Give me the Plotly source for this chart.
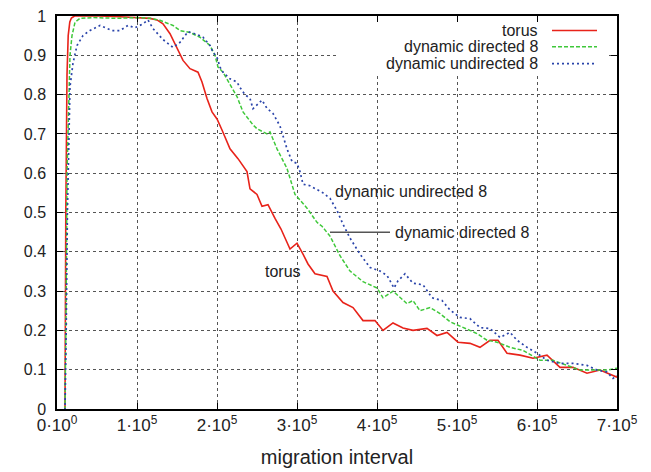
import plotly.graph_objects as go

# ---------------- data ----------------
torus_x = [8750, 10000, 11000, 12500, 14000, 16000, 18000, 22000, 28750, 53750, 78750, 103750,
           116250, 125000, 132500, 141250, 150000, 157500, 166250, 176250, 181250, 187500,
           193750, 200000, 206250, 216250, 226250, 237500, 241250, 250000, 256250, 263750,
           272500, 280000, 291250, 300000, 307500, 313750, 322500, 337500, 345000, 357500,
           370000, 382500, 397500, 407500, 420000, 432500, 445000, 462500, 475000, 487500,
           501250, 516250, 528750, 541250, 551250, 562500, 578750, 595000, 612500, 628750,
           645000, 662500, 678750, 700000]
torus_y = [0.0, 0.0, 0.5, 0.85, 0.95, 0.985, 0.995, 1.0, 1.0, 1.0, 0.998, 0.995,
           0.994, 0.99, 0.98, 0.955, 0.916, 0.887, 0.866, 0.857, 0.832, 0.79,
           0.756, 0.738, 0.71, 0.662, 0.637, 0.604, 0.56, 0.546, 0.516, 0.52,
           0.485, 0.458, 0.407, 0.422, 0.394, 0.369, 0.344, 0.337, 0.30, 0.271,
           0.258, 0.225, 0.225, 0.20, 0.219, 0.206, 0.20, 0.205, 0.187, 0.195,
           0.17, 0.167, 0.157, 0.175, 0.175, 0.142, 0.137, 0.129, 0.137, 0.106,
           0.106, 0.091, 0.099, 0.081]

directed_x = [8750, 10000, 11500, 12500, 16250, 18750, 22500, 28750, 45000, 75000, 100000,
              116250, 128750, 145000, 153750, 166250, 178750, 191250, 197500, 201250,
              207500, 213750, 220000, 225000, 232500, 245000, 250000, 262500, 266250,
              275000, 287500, 297500, 307500, 312500, 325000, 331250, 341250, 353750,
              366250, 382500, 400000, 407500, 420000, 437500, 445000, 453750, 466250,
              478750, 491250, 507500, 525000, 537500, 550000, 566250, 582500, 603750,
              620000, 637500, 653750, 670000, 687500, 700000]
directed_y = [0.0, 0.0, 0.3, 0.6, 0.9, 0.95, 0.984, 0.994, 0.996, 0.994, 0.996,
              0.994, 0.989, 0.976, 0.963, 0.958, 0.946, 0.925, 0.90, 0.87,
              0.857, 0.835, 0.814, 0.795, 0.756, 0.723, 0.713, 0.70, 0.705,
              0.662, 0.612, 0.546, 0.523, 0.511, 0.475, 0.465, 0.44, 0.39,
              0.351, 0.324, 0.308, 0.283, 0.30, 0.268, 0.276, 0.25, 0.258,
              0.243, 0.222, 0.207, 0.192, 0.175, 0.17, 0.157, 0.149, 0.124,
              0.124, 0.111, 0.099, 0.099, 0.099, 0.104]

undirected_x = [8750, 10000, 11500, 13000, 16250, 20000, 25000, 32500, 37500, 41250, 53750,
                60000, 68750, 78750, 88750, 97500, 107500, 113750, 120000, 132500, 145000,
                153750, 163750, 175000, 182500, 191250, 195000, 200000, 203750, 207500,
                216250, 225000, 228750, 235000, 241250, 245000, 251250, 256250, 262500,
                270000, 278750, 287500, 293750, 300000, 303750, 307500, 316250, 332500,
                341250, 350000, 357500, 366250, 378750, 391250, 403750, 412500, 421250,
                426250, 435000, 445000, 457500, 468750, 481250, 491250, 503750, 516250,
                528750, 541250, 553750, 566250, 575000, 587500, 600000, 612500, 628750,
                645000, 662500, 675000, 687500, 695000, 700000]
undirected_y = [0.0, 0.0, 0.2, 0.5, 0.82, 0.88, 0.925, 0.95, 0.958, 0.963, 0.976,
                0.97, 0.963, 0.963, 0.976, 0.97, 0.98, 0.99, 0.968, 0.94, 0.92,
                0.933, 0.96, 0.953, 0.946, 0.925, 0.908, 0.895, 0.87, 0.857,
                0.84, 0.832, 0.818, 0.80, 0.79, 0.764, 0.776, 0.786, 0.765,
                0.752, 0.72, 0.662, 0.63, 0.625, 0.604, 0.572, 0.568, 0.55,
                0.536, 0.505, 0.47, 0.435, 0.394, 0.36, 0.351, 0.34, 0.308,
                0.326, 0.344, 0.32, 0.316, 0.283, 0.276, 0.252, 0.233, 0.23,
                0.207, 0.205, 0.182, 0.195, 0.175, 0.157, 0.142, 0.124, 0.116,
                0.116, 0.111, 0.099, 0.094, 0.078, 0.085]

series_names = ["torus", "dynamic directed 8", "dynamic undirected 8"]
series_colors = ["#e8231a", "#3fc83a", "#2a44aa"]
series_dash = ["solid", "4px,2px", "2px,3px"]
series_width = [1.6, 1.5, 1.7]

x_tick_vals = [0, 100000, 200000, 300000, 400000, 500000, 600000, 700000]
x_tick_text = ["0·10<sup>0</sup>", "1·10<sup>5</sup>", "2·10<sup>5</sup>", "3·10<sup>5</sup>",
               "4·10<sup>5</sup>", "5·10<sup>5</sup>", "6·10<sup>5</sup>", "7·10<sup>5</sup>"]
y_tick_vals = [0, 0.1, 0.2, 0.3, 0.4, 0.5, 0.6, 0.7, 0.8, 0.9, 1]
y_tick_text = ["0", "0.1", "0.2", "0.3", "0.4", "0.5", "0.6", "0.7", "0.8", "0.9", "1"]

x_title = "migration interval"

# inline labels: (text, x, y)
label_torus = ("torus", 282500, 0.349)
label_directed = ("dynamic directed 8", 420000, 0.45)
label_undirected = ("dynamic undirected 8", 345000, 0.554)
leader_directed = (341250, 416250, 0.45)

FONT = "Liberation Sans, Arial, Helvetica, sans-serif"

fig = go.Figure()
xs = [torus_x, directed_x, undirected_x]
ys = [torus_y, directed_y, undirected_y]
for xv, yv, n, c, d, w in zip(xs, ys, series_names, series_colors, series_dash, series_width):
    fig.add_trace(go.Scatter(x=xv, y=yv, name=n, mode="lines",
                             line=dict(color=c, dash=d, width=w),
                             showlegend=False, cliponaxis=True))

# white box behind the legend hiding the grid
fig.add_shape(type="rect", x0=350000, x1=687500, y0=0.855, y1=1.0,
              xref="x", yref="y", fillcolor="white", line=dict(width=0), layer="between")

# custom legend: right-aligned text, line sample on the right
legend_y = [0.963, 0.922, 0.879]
for n, c, d, w, ly in zip(series_names, series_colors, series_dash, series_width, legend_y):
    fig.add_annotation(x=603750, y=ly, xref="x", yref="y", text=n, showarrow=False,
                       xanchor="right", yanchor="middle",
                       font=dict(family=FONT, size=16, color="#222"))
    fig.add_shape(type="line", x0=618750, x1=675000, y0=ly, y1=ly, xref="x", yref="y",
                  line=dict(color=c, dash=d, width=w))

# inline labels
fig.add_annotation(x=label_torus[1], y=label_torus[2], text=label_torus[0], showarrow=False,
                   xanchor="center", yanchor="middle", font=dict(family=FONT, size=16, color="#222"))
fig.add_annotation(x=label_directed[1], y=label_directed[2], text=label_directed[0], showarrow=False,
                   xanchor="left", yanchor="middle", font=dict(family=FONT, size=16, color="#222"))
fig.add_annotation(x=label_undirected[1], y=label_undirected[2], text=label_undirected[0],
                   showarrow=False, xanchor="left", yanchor="middle",
                   font=dict(family=FONT, size=16, color="#222"))
fig.add_shape(type="line", x0=leader_directed[0], x1=leader_directed[1],
              y0=leader_directed[2], y1=leader_directed[2], xref="x", yref="y",
              line=dict(color="#555", width=1.5))

axis_common = dict(showline=True, mirror="ticks", linecolor="black", linewidth=1.5,
                   ticks="inside", ticklen=6, tickwidth=1, tickcolor="black",
                   showgrid=True, gridcolor="#555", griddash="dot", gridwidth=1,
                   zeroline=False, automargin=False, ticklabeloverflow="allow")

fig.update_xaxes(range=[0, 700000], tickmode="array", tickvals=x_tick_vals, ticktext=x_tick_text,
                 tickfont=dict(family=FONT, size=17, color="#222"),
                 title=dict(text=x_title, font=dict(family=FONT, size=20, color="#222"), standoff=16),
                 **axis_common)
fig.update_yaxes(range=[0, 1], tickmode="array", tickvals=y_tick_vals, ticktext=y_tick_text,
                 tickfont=dict(family=FONT, size=16, color="#222"),
                 ticklabelstandoff=6, **axis_common)

# the page body adds an 8px offset; the figure fills the rest of the 651x472 window
fig.update_layout(width=643, height=464, margin=dict(l=49, r=34, t=8, b=63),
                  paper_bgcolor="white", plot_bgcolor="white",
                  font=dict(family=FONT, size=16, color="#222"), showlegend=False)

fig.write_html("out.html")
